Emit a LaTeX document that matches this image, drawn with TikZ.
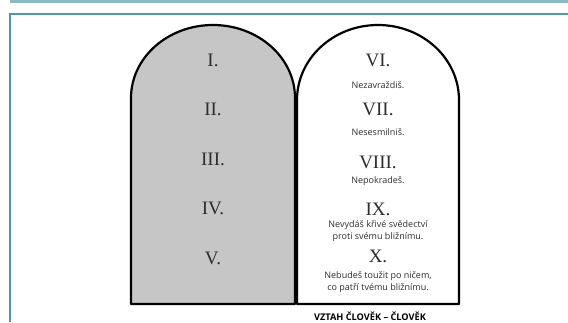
\documentclass[tikz,border=0pt]{standalone}
\usepackage{fontspec}
\setmainfont{Liberation Serif}
\setsansfont{Open Sans}
\usepackage{tikz}
\definecolor{tabletGray}{RGB}{198,198,198}
\definecolor{frameTeal}{RGB}{84,150,164}
\definecolor{barTeal}{RGB}{140,186,194}
\definecolor{inkGray}{RGB}{45,45,45}

\begin{document}
\begin{tikzpicture}[x=1pt,y=-1pt,
    numeral/.style={font=\fontsize{19}{20}\selectfont, text=inkGray, inner sep=0pt},
    command/.style={font=\sffamily\fontsize{9}{11.5}\selectfont, align=center, text=inkGray, inner sep=0pt},
    tablet/.style={line width=2.2pt, line join=round}]
        \useasboundingbox (0,0) rectangle (568,322);
        % page frame
        \fill[barTeal] (10,0) rectangle (568,2.5);
        \draw[frameTeal, line width=1.5pt] (10,322) -- (10,14) -- (568,14);
        % the two tablets
        \draw[tablet, fill=tabletGray] (131,304) -- (131,98)
          arc[start angle=180, end angle=0, x radius=82pt, y radius=73pt] -- (295,304) -- cycle;
        \draw[tablet, fill=white] (297,304) -- (297,100)
          arc[start angle=180, end angle=0, x radius=81pt, y radius=75pt] -- (459,304) -- cycle;
        % left tablet
        \foreach \n/\r/\y in {1/I./60, 2/II./109, 3/III./159, 4/IV./208, 5/V./258}
          \node[numeral] (num\n) at (213,\y) {\r};
        % right tablet
        \node[numeral] (num6) at (378,60) {VI.};
        \node[command] (cmd6) at (378,85) {Nezavraždiš.};
        \node[numeral] (num7) at (378,109) {VII.};
        \node[command] (cmd7) at (378,132) {Nesesmilniš.};
        \node[numeral] (num8) at (378,162) {VIII.};
        \node[command] (cmd8) at (378,181) {Nepokradeš.};
        \node[numeral] (num9) at (378,209) {IX.};
        \node[command] (cmd9) at (378,231) {Nevydáš křivé svědectví\\proti svému bližnímu.};
        \node[numeral] (num10) at (378,256) {X.};
        \node[command] (cmd10) at (378,282) {Nebudeš toužit po ničem,\\co patří tvému bližnímu.};
        \node[font=\sffamily\bfseries\fontsize{9.2}{10}\selectfont, inner sep=0pt] (title) at (370,316) {VZTAH ČLOVĚK – ČLOVĚK};
      \end{tikzpicture}
\end{document}
